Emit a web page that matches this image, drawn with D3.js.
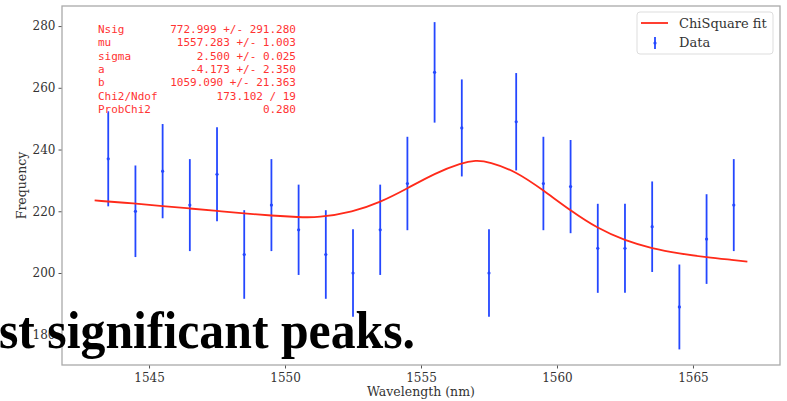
<!DOCTYPE html>
<html>
<head>
<meta charset="utf-8">
<script src="https://cdn.jsdelivr.net/npm/d3@7"></script>
<style>
  body { margin: 0; background: #fff; }
  svg { display: block; }
  .tick text { font-family: "DejaVu Serif", serif; font-size: 12px; fill: #333; }
  .tick line { stroke: #555; }
  .domain { stroke: none; }
</style>
</head>
<body>
<div id="wrapper"></div>
<script>
// data
const wavelength = [1543.5, 1544.5, 1545.5, 1546.5, 1547.5, 1548.5, 1549.5, 1550.5,
  1551.5, 1552.5, 1553.5, 1554.5, 1555.5, 1556.5, 1557.5, 1558.5, 1559.5, 1560.5,
  1561.5, 1562.5, 1563.5, 1564.5, 1565.5, 1566.5];
const counts = [237, 220, 233, 222, 232, 206, 222, 214, 206, 200, 214, 229, 265, 247,
  200, 249, 229, 228, 208, 208, 215, 189, 211, 222];

// fitted curve
const fitX = [1543, 1544.5, 1545.5, 1546.5, 1547.5, 1548.5, 1549.5, 1550.5, 1551.2,
  1552.5, 1553.5, 1554.5, 1555.5, 1556.5, 1557, 1557.5, 1558.5, 1559.5, 1560.5,
  1561.5, 1562.5, 1563.5, 1564.5, 1565.5, 1566.5, 1567];
const fitY = [223.5, 222.5, 221.7, 220.9, 220.1, 219.3, 218.6, 218.1, 217.9,
  219.8, 222.9, 227.4, 232.3, 235.7, 236.5, 236.1, 232.9, 226.8, 220.2,
  214.4, 210.5, 207.9, 206.3, 205.1, 204.2, 203.7];

const fitLabels = ["Nsig", "mu", "sigma", "a", "b", "Chi2/Ndof", "ProbChi2"];
const fitValues = ["772.999 +/- 291.280", "1557.283 +/- 1.003", "2.500 +/- 0.025",
  "-4.173 +/- 2.350", "1059.090 +/- 21.363", "173.102 / 19", "0.280"];

const xTicks = [1545, 1550, 1555, 1560, 1565];
const yTicks = [180, 200, 220, 240, 260, 280];

const dimensions = {
  width: 787,
  height: 401,
  margin: { top: 6, right: 7, bottom: 36, left: 62 },
};
dimensions.boundedWidth = dimensions.width - dimensions.margin.left - dimensions.margin.right;
dimensions.boundedHeight = dimensions.height - dimensions.margin.top - dimensions.margin.bottom;

const wrapper = d3.select("#wrapper")
  .append("svg")
  .attr("width", dimensions.width)
  .attr("height", dimensions.height);

const bounds = wrapper.append("g")
  .attr("transform", `translate(${dimensions.margin.left},${dimensions.margin.top})`);

const xScale = d3.scaleLinear()
  .domain([1541.8, 1568.2])
  .range([0, dimensions.boundedWidth]);

const yScale = d3.scaleLinear()
  .domain([170.2, 286.5])
  .range([dimensions.boundedHeight, 0]);

// axes
const xAxis = bounds.append("g")
  .attr("transform", `translate(0,${dimensions.boundedHeight})`)
  .call(d3.axisBottom(xScale).tickValues(xTicks).tickFormat(d3.format("d"))
    .tickSize(3.5).tickPadding(5));

const yAxis = bounds.append("g")
  .call(d3.axisLeft(yScale).tickValues(yTicks).tickFormat(d3.format("d"))
    .tickSize(3.5).tickPadding(3));

// frame
bounds.append("rect")
  .attr("width", dimensions.boundedWidth)
  .attr("height", dimensions.boundedHeight)
  .attr("fill", "none")
  .attr("stroke", "#aaa")
  .attr("stroke-width", 1.3);

wrapper.append("text")
  .attr("x", dimensions.margin.left + dimensions.boundedWidth / 2)
  .attr("y", 396)
  .attr("text-anchor", "middle")
  .style("font-family", "DejaVu Serif, serif")
  .style("font-size", "12.5px")
  .style("fill", "#333")
  .text("Wavelength (nm)");

wrapper.append("text")
  .attr("transform", `translate(26,${dimensions.margin.top + dimensions.boundedHeight / 2}) rotate(-90)`)
  .attr("text-anchor", "middle")
  .style("font-family", "DejaVu Serif, serif")
  .style("font-size", "12.5px")
  .style("fill", "#333")
  .text("Frequency");

// error bars
const bars = bounds.append("g");
bars.selectAll("line")
  .data(wavelength)
  .join("line")
  .attr("x1", (d) => xScale(d))
  .attr("x2", (d) => xScale(d))
  .attr("y1", (d, i) => yScale(counts[i] - Math.sqrt(counts[i])))
  .attr("y2", (d, i) => yScale(counts[i] + Math.sqrt(counts[i])))
  .attr("stroke", "#2447ff")
  .attr("stroke-width", 1.8);

bars.selectAll("circle")
  .data(wavelength)
  .join("circle")
  .attr("cx", (d) => xScale(d))
  .attr("cy", (d, i) => yScale(counts[i]))
  .attr("r", 1.6)
  .attr("fill", "#2447ff");

// fit line
const fitLine = d3.line()
  .x((d, i) => xScale(fitX[i]))
  .y((d) => yScale(d))
  .curve(d3.curveBasis);

bounds.append("path")
  .attr("d", fitLine(fitY))
  .attr("fill", "none")
  .attr("stroke", "#ff2a1a")
  .attr("stroke-width", 1.8);

// fit results
const info = wrapper.append("g")
  .style("font-family", "DejaVu Sans Mono, monospace")
  .style("font-size", "11px")
  .style("fill", "#ff3333");

info.selectAll(".lbl")
  .data(fitLabels)
  .join("text")
  .attr("class", "lbl")
  .attr("x", 98)
  .attr("y", (d, i) => 33 + i * 13.33)
  .text((d) => d);

info.selectAll(".val")
  .data(fitValues)
  .join("text")
  .attr("class", "val")
  .attr("x", 296)
  .attr("y", (d, i) => 33 + i * 13.33)
  .attr("text-anchor", "end")
  .text((d) => d);

// legend
const legend = wrapper.append("g");
legend.append("rect")
  .attr("x", 637).attr("y", 12)
  .attr("width", 136).attr("height", 42)
  .attr("rx", 3)
  .attr("fill", "#fff")
  .attr("fill-opacity", 0.8)
  .attr("stroke", "#ddd");
legend.append("line")
  .attr("x1", 641).attr("x2", 668)
  .attr("y1", 23).attr("y2", 23)
  .attr("stroke", "#ff2a1a").attr("stroke-width", 1.8);
legend.append("line")
  .attr("x1", 655).attr("x2", 655)
  .attr("y1", 37).attr("y2", 49)
  .attr("stroke", "#2447ff").attr("stroke-width", 1.8);
legend.append("circle")
  .attr("cx", 655).attr("cy", 43).attr("r", 1.6)
  .attr("fill", "#2447ff");
legend.selectAll("text")
  .data(["ChiSquare fit", "Data"])
  .join("text")
  .attr("x", 679)
  .attr("y", (d, i) => 28 + i * 19)
  .style("font-family", "DejaVu Serif, serif")
  .style("font-size", "13px")
  .style("fill", "#333")
  .text((d) => d);

// overlaid caption
wrapper.append("text")
  .attr("x", -1)
  .attr("y", 348)
  .attr("textLength", 416)
  .attr("lengthAdjust", "spacingAndGlyphs")
  .style("font-family", "Liberation Serif, serif")
  .style("font-weight", "bold")
  .style("font-size", "52px")
  .style("fill", "#000")
  .text("st significant peaks.");
</script>
</body>
</html>
